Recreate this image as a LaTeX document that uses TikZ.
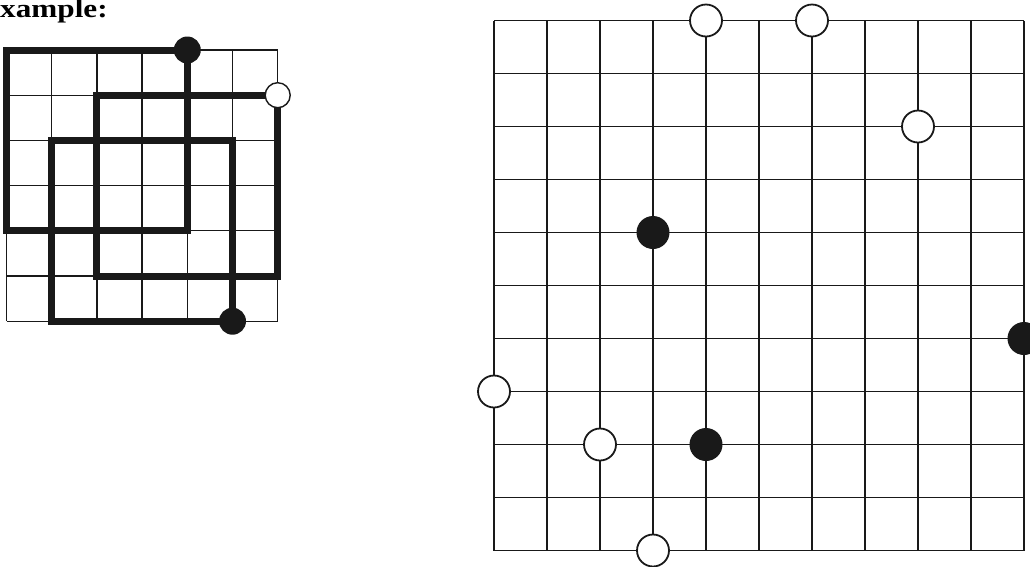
\documentclass[tikz,border=0pt]{standalone}
\usepackage{fontspec}
\setmainfont{Liberation Serif}
\begin{document}
\begin{tikzpicture}[x=1pt,y=-1pt,
  thingrid/.style={line width=1.3pt, black!90},
  biggrid/.style={line width=1.8pt, black!90},
  thickpath/.style={line width=7pt, black!90, line join=miter},
  smallwhite/.style={circle, draw=black!90, fill=white, line width=1.4pt, minimum size=25pt, inner sep=0pt},
  smallblack/.style={circle, fill=black!90, minimum size=27pt, inner sep=0pt},
  bigwhite/.style={circle, draw=black!90, fill=white, line width=1.8pt, minimum size=32pt, inner sep=0pt},
  bigblack/.style={circle, fill=black!90, minimum size=33pt, inner sep=0pt},
  title/.style={font=\fontsize{26pt}{28pt}\selectfont\bfseries, anchor=base west, inner sep=0pt, xscale=1.2}]
\useasboundingbox (0,0) rectangle (1030,566);
% title
\node[title] (ttl) at (0,17) {xample:};
% left grid: origin (6.5,50), cell 45.2
\begin{scope}[shift={(6.5,50)}, x=45.2pt, y=-45.2pt]
  \foreach \i in {0,...,6} {
    \draw[thingrid] (\i,0) -- (\i,6);
    \draw[thingrid] (0,\i) -- (6,\i);
  }
  \draw[thickpath] (4,0) -- (0,0) -- (0,4) -- (4,4) -- cycle;
  \draw[thickpath] (6,1) -- (2,1) -- (2,5) -- (6,5) -- cycle;
  \draw[thickpath] (5,6) -- (1,6) -- (1,2) -- (5,2) -- cycle;
  \node[smallblack] (lb1) at (4,0) {};
  \node[smallwhite] (lw1) at (6,1) {};
  \node[smallblack] (lb2) at (5,6) {};
\end{scope}
% right grid: origin (494,20.5), cell 53
\begin{scope}[shift={(494,20.5)}, x=53pt, y=-53pt]
  \foreach \i in {0,...,10} {
    \draw[biggrid] (\i,0) -- (\i,10);
    \draw[biggrid] (0,\i) -- (10,\i);
  }
  \node[bigwhite] (w1) at (4,0) {};
  \node[bigwhite] (w2) at (6,0) {};
  \node[bigwhite] (w3) at (8,2) {};
  \node[bigblack] (b1) at (3,4) {};
  \node[bigblack] (b2) at (10,6) {};
  \node[bigwhite] (w4) at (0,7) {};
  \node[bigwhite] (w5) at (2,8) {};
  \node[bigblack] (b3) at (4,8) {};
  \node[bigwhite] (w6) at (3,10) {};
\end{scope}
\end{tikzpicture}
\end{document}
